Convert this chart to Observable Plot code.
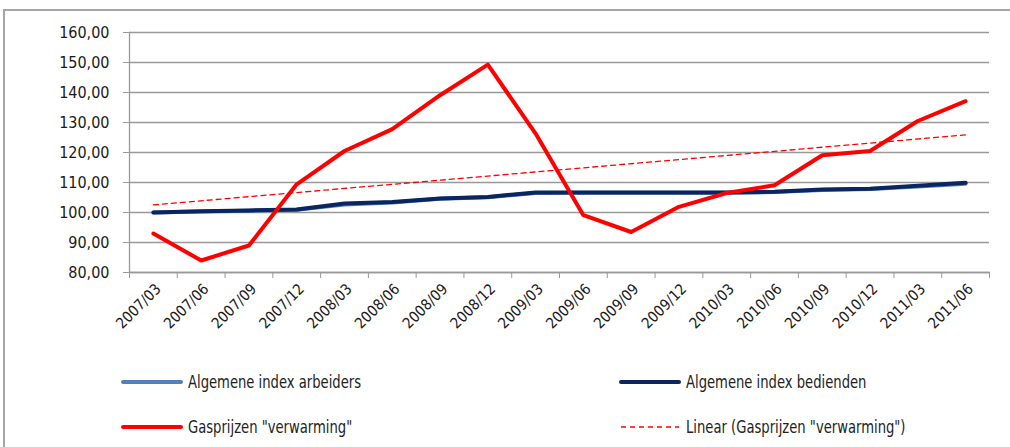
<!DOCTYPE html>
<html>
<head>
<meta charset="utf-8">
<script src="https://cdn.jsdelivr.net/npm/d3@7"></script>
<script src="https://cdn.jsdelivr.net/npm/@observablehq/plot@0.6"></script>
<style>
  html, body { margin: 0; padding: 0; background: #fff; width: 1010px; height: 447px; overflow: hidden; }
  body { position: relative; font-family: "Liberation Sans Narrow", "DejaVu Sans Condensed", "Arial Narrow", sans-serif; }
  #frame { position: absolute; left: 3px; top: 9px; width: 1020px; height: 460px; border: 2px solid #a6a6a6; box-sizing: border-box; }
  #chart { position: absolute; left: 0; top: 0; }
  .leg { position: absolute; display: flex; align-items: center; font-size: 17px; color: #222; white-space: nowrap; }
  .leg svg { margin-right: 5px; }
  .leg span { display: inline-block; transform: scaleX(0.86); transform-origin: left center; }
</style>
</head>
<body>
<div id="frame"></div>
<div id="chart"></div>
<div id="legend"></div>
<script>
const periods = ["2007/03","2007/06","2007/09","2007/12","2008/03","2008/06","2008/09","2008/12","2009/03","2009/06","2009/09","2009/12","2010/03","2010/06","2010/09","2010/12","2011/03","2011/06"];
const arbeiders = [100.0, 100.3, 100.6, 100.9, 102.7, 103.3, 104.6, 105.1, 106.5, 106.6, 106.6, 106.6, 106.6, 106.8, 107.5, 107.8, 108.7, 109.6];
const bedienden = [100.0, 100.4, 100.7, 101.0, 103.0, 103.5, 104.7, 105.2, 106.7, 106.7, 106.7, 106.7, 106.7, 106.9, 107.7, 107.9, 108.9, 109.9];
const gas = [93.0, 84.0, 89.0, 109.4, 120.5, 127.8, 139.1, 149.3, 126.3, 99.1, 93.5, 101.9, 106.5, 109.1, 119.1, 120.5, 130.5, 137.1];
const yTicks = [80, 90, 100, 110, 120, 130, 140, 150, 160];
const seriesNames = ["Algemene index arbeiders", "Algemene index bedienden", "Gasprijzen \"verwarming\"", "Linear (Gasprijzen \"verwarming\")"];
const seriesColors = ["#4f81bd", "#0b2560", "#ff0000", "#ff0000"];

const toRows = (vals) => vals.map((v, i) => ({i, v}));
const fmt = v => v.toFixed(2).replace(".", ",");
const idx = d3.range(periods.length);
const bounds = d3.range(periods.length + 1).map(i => i - 0.5);

const chart = Plot.plot({
  width: 1010,
  height: 345,
  marginTop: 32,
  marginBottom: 73,
  marginLeft: 129,
  marginRight: 21,
  style: { fontFamily: "'Liberation Sans Narrow', 'DejaVu Sans Condensed', sans-serif", fontSize: "16px", color: "#1a1a1a", background: "transparent" },
  x: { type: "linear", domain: [-0.5, periods.length - 0.5] },
  y: { domain: [80, 160] },
  marks: [
    Plot.gridY(yTicks, { stroke: "#999", strokeOpacity: 1, strokeWidth: 1.3 }),
    Plot.frame({ anchor: "left", stroke: "#999", strokeWidth: 1.3 }),
    Plot.frame({ anchor: "bottom", stroke: "#999", strokeWidth: 1.3 }),
    Plot.axisY({ ticks: yTicks, tickFormat: fmt, tickSize: 6, tickPadding: 14, stroke: "#999", label: null, fontSize: 16 }),
    Plot.axisX({ ticks: bounds, tickFormat: () => "", tickSize: 6, stroke: "#999", label: null }),
    Plot.axisX({ ticks: idx, tickFormat: i => periods[i], tickSize: 0, tickRotate: -45, tickPadding: 14, dx: 5, label: null, fontSize: 15 }),
    Plot.linearRegressionY(toRows(gas), { x: "i", y: "v", ci: 0, stroke: seriesColors[3], strokeWidth: 1.3, strokeDasharray: "5,4" }),
    Plot.line(toRows(arbeiders), { x: "i", y: "v", stroke: seriesColors[0], strokeWidth: 4 }),
    Plot.line(toRows(bedienden), { x: "i", y: "v", stroke: seriesColors[1], strokeWidth: 4, strokeLinecap: "round" }),
    Plot.line(toRows(gas), { x: "i", y: "v", stroke: seriesColors[2], strokeWidth: 4 })
  ]
});
document.getElementById("chart").appendChild(chart);

const legendPos = [[121, 382], [619, 382], [121, 427], [619, 427]];
const legend = document.getElementById("legend");
seriesNames.forEach((name, k) => {
  const div = document.createElement("div");
  div.className = "leg";
  div.style.left = legendPos[k][0] + "px";
  div.style.top = (legendPos[k][1] - 11) + "px";
  const dashed = k === 3;
  div.innerHTML = `<svg width="62" height="22"><line x1="2" x2="60" y1="11" y2="11" stroke="${seriesColors[k]}" stroke-width="${dashed ? 1.3 : 4}" stroke-linecap="${dashed ? 'butt' : 'round'}" ${dashed ? 'stroke-dasharray="5,4"' : ''}/></svg><span></span>`;
  div.querySelector("span").textContent = name;
  legend.appendChild(div);
});
</script>
</body>
</html>
